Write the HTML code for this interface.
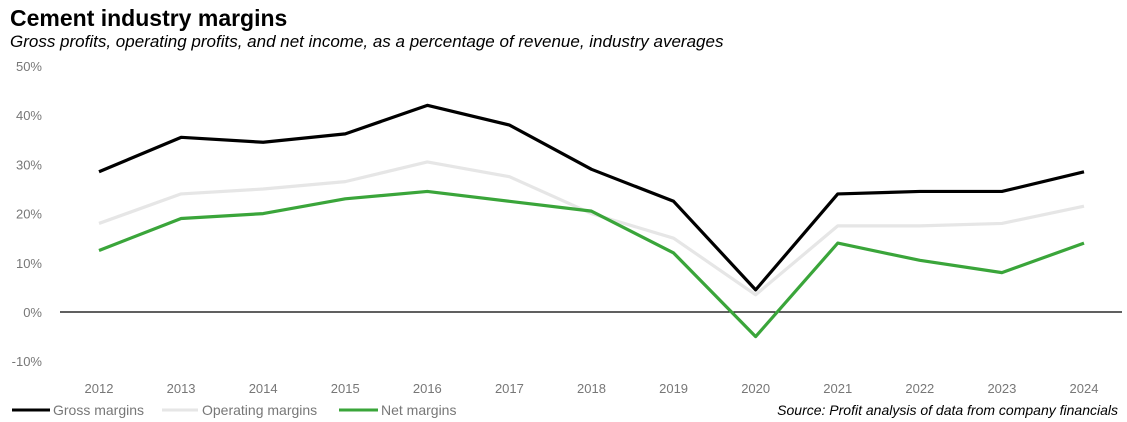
<!DOCTYPE html>
<html><head><meta charset="utf-8"><style>
body{margin:0;background:#fff;width:1127px;height:422px;overflow:hidden;font-family:"Liberation Sans",sans-serif}
svg{position:absolute;left:0;top:0}
</style></head><body>
<svg width="1127" height="422">
<text x="10" y="26" font-size="23" font-weight="bold" fill="#000">Cement industry margins</text>
<text x="10" y="47" font-size="17" font-style="italic" fill="#000">Gross profits, operating profits, and net income, as a percentage of revenue, industry averages</text>
<g id="yaxis"></g><g id="xaxis"></g>
<line x1="60" x2="1122" y1="312" y2="312" stroke="#000" stroke-width="1.2"/>
<g id="lines"></g>
<g font-size="14" fill="#777">
<line x1="12" x2="50" y1="410" y2="410" stroke="#000" stroke-width="3"/>
<text x="53" y="415">Gross margins</text>
<line x1="162" x2="198" y1="410" y2="410" stroke="#e6e6e6" stroke-width="3"/>
<text x="202" y="415">Operating margins</text>
<line x1="339" x2="378" y1="410" y2="410" stroke="#3aa53a" stroke-width="3"/>
<text x="381" y="415">Net margins</text>
</g>
<text x="1118" y="415" font-size="14" font-style="italic" text-anchor="end" fill="#000">Source: Profit analysis of data from company financials</text>
</svg>
<script>
const years=[2012,2013,2014,2015,2016,2017,2018,2019,2020,2021,2022,2023,2024];
const gross=[28.5,35.5,34.5,36.2,42,38,29,22.5,4.5,24,24.5,24.5,28.5];
const operating=[18,24,25,26.5,30.5,27.5,20,15,3.5,17.5,17.5,18,21.5];
const net=[12.5,19,20,23,24.5,22.5,20.5,12,-5,14,10.5,8,14];
const yTicks=[50,40,30,20,10,0,-10];
const NS="http://www.w3.org/2000/svg";
function x(i){return 99+i*(1084-99)/(years.length-1);}
function y(v){return 312-v*4.92;}
const ya=document.getElementById('yaxis');
yTicks.forEach(t=>{const e=document.createElementNS(NS,'text');


e.setAttribute('x',42);e.setAttribute('y',y(t)+5);e.setAttribute('text-anchor','end');e.setAttribute('font-size','13');e.setAttribute('fill','#777');e.textContent=t+'%';ya.appendChild(e);});
const xa=document.getElementById('xaxis');
years.forEach((yr,i)=>{const e=document.createElementNS(NS,'text');


e.setAttribute('x',x(i));e.setAttribute('y',393);e.setAttribute('text-anchor','middle');e.setAttribute('font-size','13');e.setAttribute('fill','#777');e.textContent=yr;xa.appendChild(e);});
const lg=document.getElementById('lines');
[[operating,'#e6e6e6','operating-line'],[gross,'#000','gross-line'],[net,'#3aa53a','net-line']].forEach(([d,c,n])=>{
const p=document.createElementNS(NS,'polyline');


p.setAttribute('points',d.map((v,i)=>x(i)+','+y(v)).join(' '));
p.setAttribute('fill','none');p.setAttribute('stroke',c);p.setAttribute('stroke-width','3.2');p.setAttribute('stroke-linejoin','round');
lg.appendChild(p);});
</script>
</body></html>
